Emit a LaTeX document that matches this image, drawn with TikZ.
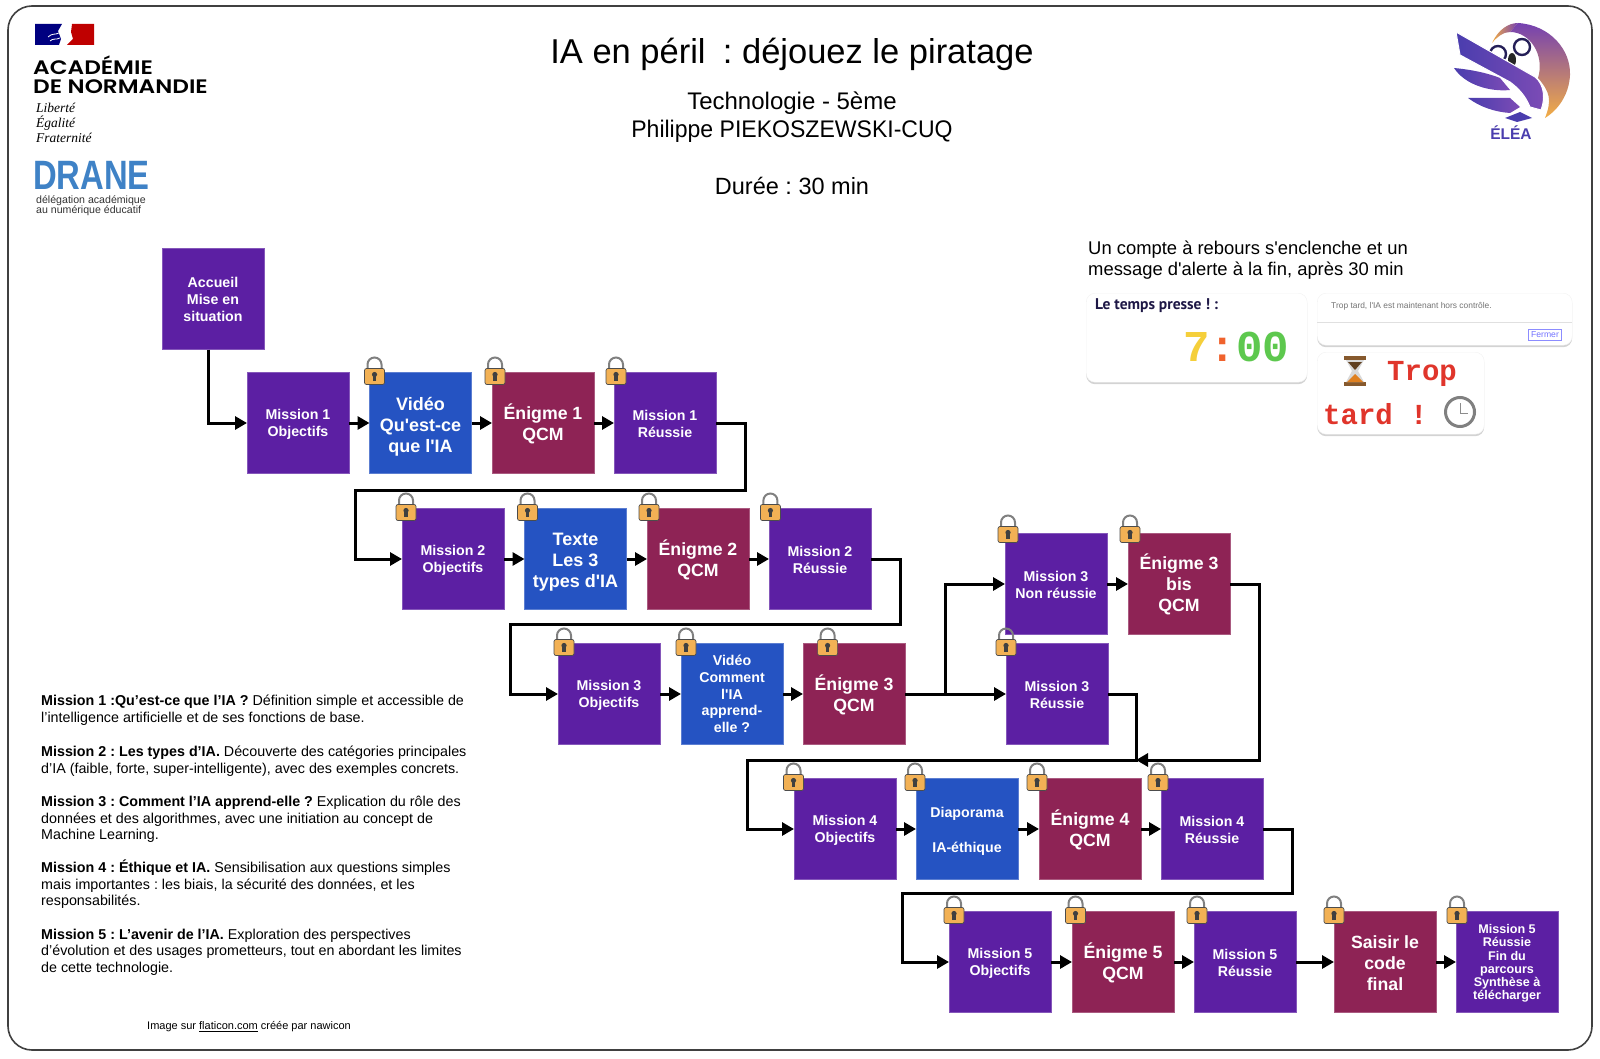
\documentclass[tikz,border=0pt]{standalone}
\usepackage{fontspec}
\usepackage{tikz}
\usepackage{xcolor}
\usetikzlibrary{arrows.meta,positioning,calc,shadows}
\setmainfont{Liberation Sans}
\newfontfamily\logofont{Poppins}[BoldFont={Poppins SemiBold}]
\newfontfamily\serifit{Liberation Serif}
\newfontfamily\monofont{Liberation Mono}
\newfontfamily\timerfont{PT Sans}
\definecolor{Mission}{HTML}{5C1FA3}
\definecolor{Media}{HTML}{2553C2}
\definecolor{Quiz}{HTML}{8E2355}
\definecolor{Drane}{HTML}{3F82C6}
\definecolor{Owl}{HTML}{4A3DAE}
\definecolor{OwlPink}{HTML}{E0507A}
\definecolor{OwlOrange}{HTML}{F3AE45}
\definecolor{Lockbody}{HTML}{F2B155}
\definecolor{Alarm}{HTML}{E0352B}
\definecolor{TimerSeven}{HTML}{F5CF3A}
\definecolor{TimerDots}{HTML}{F0622D}
\definecolor{TimerZeros}{HTML}{5DC84E}
\newcommand{\apos}{\textquotesingle{}}
\frenchspacing
\tikzset{
  lift/.store in=\boxlift,
  basebox/.style={rectangle,minimum width=102pt,minimum height=101pt,inner sep=0pt,outer sep=0pt,align=center,text=white,font=\bfseries\fontsize{14.2}{17}\selectfont,execute at begin node={\rule{0pt}{\boxlift}}},
  boxmission/.style={basebox,fill=Mission,draw=Mission!75!white,line width=0.5pt,lift=30pt},
  boxmedia/.style={basebox,fill=Media,draw=Media!75!white,line width=0.5pt,lift=63pt,font=\bfseries\fontsize{18}{21}\selectfont},
  boxquiz/.style={basebox,fill=Quiz,draw=Quiz!75!white,line width=0.5pt,lift=38pt,font=\bfseries\fontsize{17.7}{21}\selectfont},
  flow/.style={-{Triangle[length=12pt,width=13pt]},line width=3pt},
  panel/.style={rectangle,rounded corners=9pt,fill=white,draw=black!5,drop shadow={shadow xshift=0pt,shadow yshift=-2pt,opacity=0.35},inner sep=0pt},
  notes/.style={anchor=north west,inner sep=0pt,align=left,font=\fontsize{14.3}{16.4}\selectfont},
  padlock/.pic={
    \draw[black!50,line width=2pt] (-7,-6) -- (-7,-12) arc[start angle=180,end angle=360,radius=7] -- (7,-6);
    \draw[black!70,fill=Lockbody,rounded corners=2pt,line width=0.7pt] (-10,-8) rectangle (10,8);
    \fill[black!75] (0,-2) circle (2.6);
    \fill[black!75] (-1.6,-1) rectangle (1.6,4.5);
  }
}
\begin{document}
\begin{tikzpicture}[x=1pt,y=-1pt]
  \useasboundingbox (0,0) rectangle (1600,1059);
  \draw[black!75,line width=1.6pt,rounded corners=24pt] (8,6) rectangle (1592,1050);

  % logos
  \fill[blue!50!black] (35,24) -- (62,24) -- (58,31) -- (61,39) -- (59,45) -- (35,45) -- cycle;
  \draw[white,line width=0.8pt] (48,37) .. controls (52,33) and (55,35) .. (59,33);
  \draw[white,line width=0.8pt] (50,41) .. controls (53,38) and (56,40) .. (60,38);
  \fill[red!75!black] (72,24) -- (94,24) -- (94,45) -- (67,45) -- (73,39) -- (71,32) -- cycle;
  \node[anchor=west,inner sep=0pt,font=\logofont\bfseries\fontsize{19.5}{21}\selectfont] (academie) at (33,65) {\scalebox{1.19}[1]{ACADÉMIE}};
  \node[anchor=west,inner sep=0pt,font=\logofont\bfseries\fontsize{19.5}{21}\selectfont] (normandie) at (33,87) {\scalebox{1.19}[1]{DE NORMANDIE}};
  \node[anchor=north west,inner sep=0pt,align=left,font=\serifit\itshape\fontsize{13.5}{14.8}\selectfont] (devise) at (36,103) {Liberté\\Égalité\\Fraternité};
  \node[anchor=west,inner sep=0pt,text=Drane,font=\bfseries\fontsize{41}{42}\selectfont] (drane) at (33,175) {\scalebox{0.8}[1]{DRANE}};
  \node[anchor=north west,inner sep=0pt,align=left,text=black!80,font=\fontsize{10.6}{10.6}\selectfont] (delegation) at (36,195) {délégation académique\\au numérique éducatif};

  % crescent and wing of the owl
  \shade[top color=Mission!85!white,middle color=OwlPink,bottom color=OwlOrange] (1518,23) .. controls (1550,25) and (1571,50) .. (1570,75) .. controls (1569,95) and (1558,110) .. (1545,118) .. controls (1552,100) and (1550,92) .. (1538,78) .. controls (1545,55) and (1530,32) .. (1510,32) -- cycle;
  \shade[left color=OwlOrange,right color=Mission!85!white] (1492,43) .. controls (1498,30) and (1508,23) .. (1518,23) -- (1510,32) .. controls (1503,32) and (1497,37) .. (1492,43) -- cycle;
  \draw[Owl!50!black,line width=2.4pt] (1522,47) circle (8);
  \draw[Owl!50!black,line width=2.4pt] (1498,54) circle (8);
  \fill[black!85] (1512,60) ellipse (4 and 7);
  \shade[left color=Owl,right color=Mission!80!white,draw=white,line width=1pt] (1456,32) -- (1535,77) .. controls (1545,85) and (1545,100) .. (1541,110) -- (1530,107) .. controls (1525,95) and (1518,88) .. (1510,82) -- (1460,55) -- cycle;
  \shade[left color=Owl,right color=Mission!80!white] (1454,68) .. controls (1475,70) and (1490,74) .. (1500,78) -- (1510,90) .. controls (1490,92) and (1465,85) .. (1454,68) -- cycle;
  \shade[left color=Owl,right color=Mission!80!white] (1468,98) -- (1510,98) -- (1520,107) -- (1510,113) .. controls (1495,112) and (1480,107) .. (1468,98) -- cycle;
  \fill[Owl] (1505,118) -- (1520,112) -- (1532,118) -- (1517,122) -- cycle;
  \node[inner sep=0pt,text=Owl,font=\bfseries\fontsize{15.5}{16}\selectfont] (elea) at (1511,133) {ÉLÉA};

  % header
  \node[inner sep=0pt,font=\fontsize{34.5}{38}\selectfont] (title) at (792,54) {IA en péril\enspace: déjouez le piratage};
  \node[inner sep=0pt,align=center,font=\fontsize{24}{28.4}\selectfont] (author) at (792,117) {Technologie - 5ème\\\scalebox{0.96}[1]{Philippe PIEKOSZEWSKI-CUQ}};
  \node[inner sep=0pt,font=\fontsize{23.5}{26}\selectfont] (duration) at (792,186) {Durée : 30 min};

  % timer
  \node[anchor=north west,inner sep=0pt,align=left,font=\fontsize{18.4}{21}\selectfont] (alertnote) at (1088,241) {Un compte à rebours s\apos enclenche et un\\message d\apos alerte à la fin, après 30 min};
  \node[panel,anchor=north west,minimum width=221pt,minimum height=89pt] (timerpanel) at (1086,293) {};
  \node[anchor=west,inner sep=0pt,text=Owl!40!black,font=\timerfont\bfseries\fontsize{15.5}{17}\selectfont] (timerhead) at (1095,306) {Le temps presse ! :};
  \node[anchor=east,inner sep=0pt,font=\monofont\bfseries\fontsize{44}{46}\selectfont] (timerval) at (1289,347) {\textcolor{TimerSeven}{7}\textcolor{TimerDots}{:}\textcolor{TimerZeros}{00}};
  \node[panel,anchor=north west,minimum width=255pt,minimum height=52pt] (alertpanel) at (1317,293) {};
  \node[anchor=west,inner sep=0pt,text=black!55,font=\fontsize{8.4}{10}\selectfont] (alerttext) at (1331,306) {Trop tard, l\apos IA est maintenant hors contrôle.};
  \draw[black!12,line width=0.7pt] (alertpanel.west |- 0,322) -- (alertpanel.east |- 0,322);
  \node[draw=blue!45!white,line width=1pt,rectangle,minimum width=33pt,minimum height=11pt,inner sep=0pt,text=blue!55!white,font=\fontsize{8.6}{10}\selectfont] (closebtn) at (1545,334.5) {Fermer};
  \node[panel,anchor=north west,minimum width=167pt,minimum height=82pt] (latepanel) at (1317,352) {};
  \node[anchor=west,inner sep=0pt,text=Alarm,font=\monofont\bfseries\fontsize{29}{30}\selectfont] (late1) at (1387,374) {Trop};
  \node[anchor=west,inner sep=0pt,text=Alarm,font=\monofont\bfseries\fontsize{29}{30}\selectfont] (late2) at (1323,414) {tard !};
  \fill[brown!70!black] (1344,356) rectangle (1366,360);
  \fill[brown!70!black] (1344,382) rectangle (1366,386);
  \fill[black!15] (1346,360) -- (1364,360) -- (1358,371) -- (1364,382) -- (1346,382) -- (1352,371) -- cycle;
  \fill[brown!50!black] (1348,362) -- (1362,362) -- (1355,370) -- cycle;
  \fill[orange!50!brown] (1347,382) -- (1355,374) -- (1363,382) -- cycle;
  \draw[black!50,fill=white,line width=3pt] (1460,412) circle (14.5);
  \draw[black!45,line width=1pt] (1460,403) -- (1460,413) -- (1468,413);

  % mission notes
  \node[notes] (note1) at (41,695) {\textbf{Mission 1 :Qu’est-ce que l’IA ?} Définition simple et accessible de\\l’intelligence artificielle et de ses fonctions de base.};
  \node[notes] (note2) at (41,746) {\textbf{Mission 2 : Les types d’IA.} Découverte des catégories principales\\d’IA (faible, forte, super-intelligente), avec des exemples concrets.};
  \node[notes] (note3) at (41,796) {\textbf{Mission 3 : Comment l’IA apprend-elle ?} Explication du rôle des\\données et des algorithmes, avec une initiation au concept de\\Machine Learning.};
  \node[notes] (note4) at (41,860) {\textbf{Mission 4 : Éthique et IA.} Sensibilisation aux questions simples\\mais importantes : les biais, la sécurité des données, et les\\responsabilités.};
  \node[notes] (note5) at (41,929) {\textbf{Mission 5 : L’avenir de l’IA.} Exploration des perspectives\\d’évolution et des usages prometteurs, tout en abordant les limites\\de cette technologie.};
  \node[inner sep=0pt,anchor=west,font=\fontsize{11}{12}\selectfont] (credit) at (147,1026.5) {Image sur \underline{flaticon.com} créée par nawicon};

  % parcours
  \node[boxmission,lift=0pt] (accueil) at (213,299) {Accueil\\Mise en\\situation};

  \node[boxmission] (mAobj) at (298,423) {Mission 1\\Objectifs};
  \node[boxmedia] (mAvid) at (420.5,423) {Vidéo\\Qu\apos est-ce\\que l\apos IA};
  \node[boxquiz] (mAquiz) at (543,423) {Énigme 1\\QCM};
  \node[boxmission] (mAend) at (665,423) {Mission 1\\Réussie};

  \node[boxmission] (mBobj) at (453,559) {Mission 2\\Objectifs};
  \node[boxmedia,lift=60pt] (mBtxt) at (575.5,559) {Texte\\Les 3\\types d\apos IA};
  \node[boxquiz] (mBquiz) at (698,559) {Énigme 2\\QCM};
  \node[boxmission] (mBend) at (820,559) {Mission 2\\Réussie};

  \node[boxmission] (mCobj) at (609,694) {Mission 3\\Objectifs};
  \node[boxmedia,lift=0pt,font=\bfseries\fontsize{14.2}{16.6}\selectfont] (mCvid) at (732,694) {Vidéo\\Comment\\l\apos IA\\apprend-\\elle ?};
  \node[boxquiz] (mCquiz) at (854,694) {Énigme 3\\QCM};
  \node[boxmission] (mCfail) at (1056,584) {Mission 3\\Non réussie};
  \node[boxquiz,lift=0pt] (mCbis) at (1179,584) {Énigme 3\\bis\\QCM};
  \node[boxmission] (mCend) at (1057,694) {Mission 3\\Réussie};

  \node[boxmission] (mDobj) at (845,829) {Mission 4\\Objectifs};
  \node[boxmedia,lift=49pt,font=\bfseries\fontsize{14.2}{17.3}\selectfont] (mDdia) at (967,829) {Diaporama\\~\\IA-éthique};
  \node[boxquiz] (mDquiz) at (1090,829) {Énigme 4\\QCM};
  \node[boxmission] (mDend) at (1212,829) {Mission 4\\Réussie};

  \node[boxmission] (mEobj) at (1000,962) {Mission 5\\Objectifs};
  \node[boxquiz] (mEquiz) at (1123,962) {Énigme 5\\QCM};
  \node[boxmission] (mEend) at (1245,962) {Mission 5\\Réussie};
  \node[boxquiz,lift=57pt] (finalcode) at (1385,962) {Saisir le\\code\\final};
  \node[boxmission,lift=78pt,font=\bfseries\fontsize{12.6}{13.2}\selectfont] (finalend) at (1507,962) {Mission 5\\Réussie\\Fin du\\parcours\\Synthèse à\\télécharger};

  \coordinate (turnAa) at (745,490);
  \coordinate (turnAb) at (355,490);
  \coordinate (turnBa) at (900,624);
  \coordinate (turnBb) at (510,624);
  \coordinate (fork) at (945,694);
  \coordinate (merge) at (1136,760);
  \coordinate (turnCa) at (1259,760);
  \coordinate (turnCb) at (747,760);
  \coordinate (turnDa) at (1292,893);
  \coordinate (turnDb) at (902,893);

  \draw[flow] ([xshift=-5pt]accueil.south) |- (mAobj.west);
  \foreach \from/\to in {mAobj/mAvid,mAvid/mAquiz,mAquiz/mAend,mBobj/mBtxt,mBtxt/mBquiz,mBquiz/mBend,mCobj/mCvid,mCvid/mCquiz,mCfail/mCbis,mDobj/mDdia,mDdia/mDquiz,mDquiz/mDend,mEobj/mEquiz,mEquiz/mEend,mEend/finalcode,finalcode/finalend}
    \draw[flow] (\from.east) -- (\to.west);
  \draw[flow] (mAend.east) -| (turnAa) -- (turnAb) |- (mBobj.west);
  \draw[flow] (mBend.east) -| (turnBa) -- (turnBb) |- (mCobj.west);
  \draw[flow] (mCquiz.east) -- (mCend.west);
  \draw[flow] (fork) |- (mCfail.west);
  \draw[flow] (mCbis.east) -| (turnCa) -- (merge);
  \draw[flow] (mCend.east) -| (merge) -- (turnCb) |- (mDobj.west);
  \draw[flow] (mDend.east) -| (turnDa) -- (turnDb) |- (mEobj.west);

  \foreach \boxname/\dx/\dy in {mAvid/5/4,mAquiz/3/4,mAend/2/4,mBobj/4/4,mBtxt/3/4,mBquiz/2/4,mBend/1.4/4,mCobj/6/4,mCvid/5/4,mCquiz/24.6/4,mCfail/3/1,mCbis/2/1,mCend/0/4,mDobj/-0.5/4,mDdia/-1/4,mDquiz/-2/4,mDend/-3/4,mEobj/5/4,mEquiz/3.5/4,mEend/3/4,finalcode/0/4,finalend/1/4}
    \pic at ($(\boxname.north west)+(\dx,\dy)$) {padlock};
\end{tikzpicture}
\end{document}
